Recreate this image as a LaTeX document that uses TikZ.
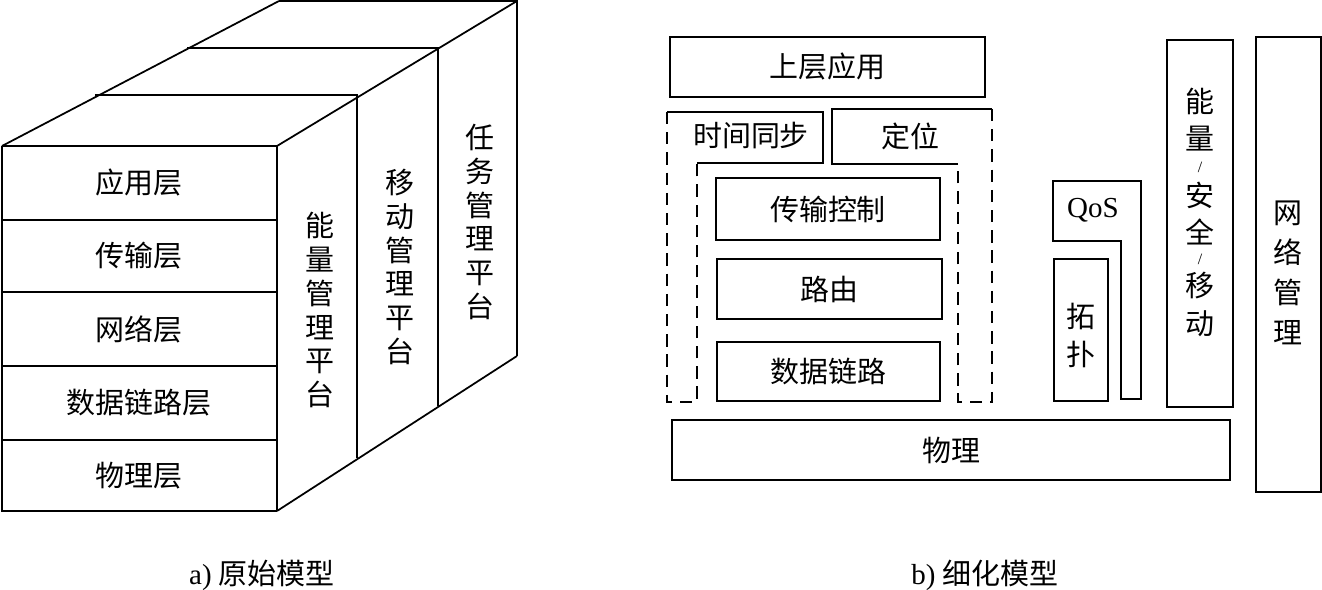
\documentclass[tikz,border=0pt]{standalone}
\usepackage{fontspec}
\setmainfont{Liberation Serif}
\newfontfamily\cjk{Noto Sans CJK SC}
\usetikzlibrary{calc}

\begin{document}
\begin{tikzpicture}[x=0.02cm,y=-0.02cm,line width=1pt,
  txt/.style={font=\cjk\fontsize{16.5}{20}\selectfont,inner sep=0pt},
  vtxt/.style={txt,align=center,font=\cjk\fontsize{16.5}{19.3}\selectfont},
  box/.style={draw,txt},
  sl/.style={inner sep=0pt,font=\fontsize{9}{9}\selectfont},
  dsh/.style={dash pattern=on 7pt off 4.5pt}]
  \useasboundingbox (0,0) rectangle (1322,590);

  \foreach \i/\tx/\ty/\rx/\by in {0/2/146/277/511,1/95/95/357/458,2/187/48/438/406,3/279/1/517/356} {
    \coordinate (T\i) at (\tx,\ty);
    \coordinate (R\i) at (\rx,\ty);
    \coordinate (B\i) at (\rx,\by);
    \draw (T\i) -- (R\i) -- (B\i);
  }
  \draw (T0) -- (T3) (R0) -- (R3) (B0) -- (B3);
  \draw (T0) |- (B0);

  \foreach \i/\ya/\yb/\name in {1/146/220/应用层,2/220/292/传输层,3/292/366/网络层,4/366/440/数据链路层,5/440/511/物理层} {
    \draw (2,\ya) -- (277,\ya);
    \node[txt] (layer\i) at (139,{(\ya+\yb)/2}) {\name};
  }

  \node[vtxt] (plat1) at (320,310) {能\\量\\管\\理\\平\\台};
  \node[vtxt] (plat2) at (400,267) {移\\动\\管\\理\\平\\台};
  \node[vtxt] (plat3) at (480,222) {任\\务\\管\\理\\平\\台};

  \node[box,minimum width=6.3cm,minimum height=1.2cm] (app) at (827.5,67) {上层应用};

  \draw (697,163) -- (823,163) -- (823,112) -- (667,112);
  \draw[dsh] (667,112) -- (667,402) -- (697,402) -- (697,163);
  \draw (958,164) -- (832,164) -- (832,109) -- (992,109);
  \draw[dsh] (992,109) -- (992,402) -- (958,402) -- (958,164);
  \node[txt] (sync) at (751,136) {时间同步};
  \node[txt] (pos) at (910,136) {定位};

  \node[box,minimum width=4.48cm,minimum height=1.24cm] (trans) at (828,209) {传输控制};
  \node[box,minimum width=4.5cm,minimum height=1.2cm] (route) at (829.5,289) {路由};
  \node[box,minimum width=4.46cm,minimum height=1.18cm] (link) at (828.5,371.5) {数据链路};
  \node[box,minimum width=11.16cm,minimum height=1.2cm] (phy) at (951,450) {物理};

  \draw (1053,181) -- (1141,181) -- (1141,399) -- (1121,399) -- (1121,241) -- (1053,241) -- cycle;
  \node[font=\fontsize{16.5}{20}\selectfont,inner sep=0pt] (qos) at (1093,210) {QoS};
  \node[draw,minimum width=1.08cm,minimum height=2.84cm] (topo) at (1081,330) {};
  \node[txt,align=center,font=\cjk\fontsize{16.5}{22.1}\selectfont] (topotxt) at (1081,335.5) {拓\\扑};

  \node[draw,minimum width=1.32cm,minimum height=7.34cm] (ems) at (1200,223.5) {};
  \foreach \j/\y/\c in {1/101/能,2/139/量,4/195/安,5/232/全,7/286/移,8/324/动} {
    \node[txt] (ems\j) at (1200,\y) {\c};
  }
  \node[sl] (ems3) at (1200,167) {/};
  \node[sl] (ems6) at (1200,259) {/};

  \node[draw,minimum width=1.3cm,minimum height=9.1cm] (net) at (1288.5,264.5) {};
  \node[txt,align=center,font=\cjk\fontsize{16.5}{22.7}\selectfont] (nettxt) at (1288,273) {网\\络\\管\\理};

  \node[inner sep=0pt,font=\fontsize{16.5}{20}\selectfont] (capa) at (262,575) {a) {\cjk 原始模型}};
  \node[inner sep=0pt,font=\fontsize{16.5}{20}\selectfont] (capb) at (985,575) {b) {\cjk 细化模型}};
\end{tikzpicture}
\end{document}
